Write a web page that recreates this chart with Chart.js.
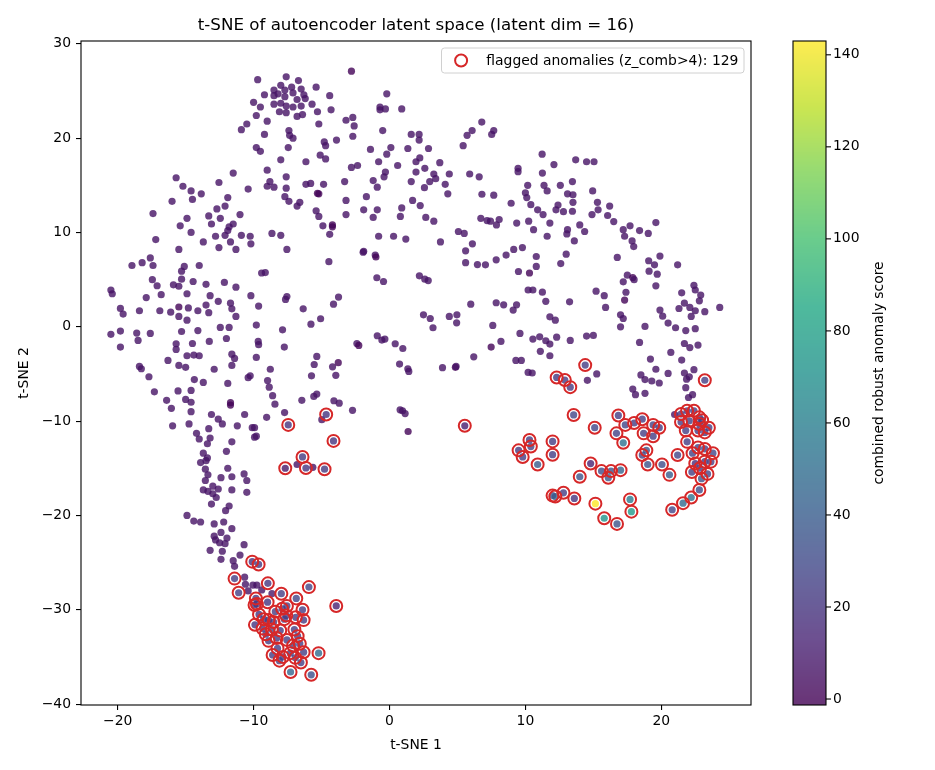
<!DOCTYPE html>
<html>
<head>
<meta charset="utf-8">
<script src="https://cdn.jsdelivr.net/npm/chart.js@4.4.1/dist/chart.umd.min.js"></script>
<style>
html, body { margin: 0; padding: 0; background: #fff; }
canvas { display: block; }
</style>
</head>
<body>
<canvas id="tsne" width="935" height="770"></canvas>
<script>
// ticks
const xTicks = [-20, -10, 0, 10, 20]
const yTicks = [-40, -30, -20, -10, 0, 10, 20, 30]
const cbTicks = [0, 20, 40, 60, 80, 100, 120, 140]
const scoreMin = -1.3
const scoreMax = 143
const nFlagged = 129

// normal points: [t-SNE 1, t-SNE 2, score]
const normalPts = [
  [-9.7,26.2,6],[-7.6,26.5,6],[-6.7,26.1,6],[-2.8,27.1,0],
  [-8.5,25.1,6],[-8.0,25.6,6],[-7.7,25.1,6],[-7.2,25.4,6],[-6.5,25.2,6],[-5.4,25.4,6],
  [-9.2,24.6,6],[-8.5,24.5,6],[-8.2,24.7,6],[-7.7,24.4,6],[-7.1,24.8,6],[-6.3,24.6,6],[-6.8,24.1,6],[-6.2,24.2,6],[-4.4,24.5,6],[-0.2,24.7,6],
  [-10.0,23.8,6],[-8.5,23.6,6],[-8.0,23.7,6],[-7.6,23.4,6],[-7.1,23.3,6],[-6.5,23.4,6],[-5.7,23.6,6],[-9.5,23.3,6],
  [-8.1,22.8,6],[-7.6,22.7,6],[-6.8,22.3,6],[-6.4,22.5,6],[-5.3,22.8,6],[-4.3,23.0,6],
  [-0.7,23.3,6],[-0.7,23.0,6],[-0.3,23.1,6],[0.9,23.1,6],
  [-9.8,22.4,6],[-9.0,21.8,6],[-5.2,21.5,6],[-3.2,21.9,6],[-2.7,22.2,6],[-2.6,21.3,6],[-2.7,20.2,6],[-0.5,20.8,6],[1.6,20.4,6],
  [-9.2,20.4,6],[-7.4,20.8,6],[-7.35,20.3,6],[-7.1,20.0,6],[-3.9,19.8,6],[-4.8,19.6,6],[-4.7,19.2,6],
  [-9.8,19.0,6],[-9.5,18.6,6],[-7.45,19.0,6],[-1.4,18.8,6],[0.1,19.0,6],[1.35,18.9,6],[-0.2,18.3,6],
  [-5.1,18.2,6],[-4.7,17.8,6],[-8.0,17.7,6],[-6.15,17.5,6],[-0.8,17.5,6],[1.95,17.5,6],
  [-2.35,17.1,6],[-2.8,16.9,6],[0.6,17.1,6],[-9.0,16.6,6],[-0.3,16.4,6],[-0.4,15.9,6],[1.95,16.4,6],
  [-7.6,15.9,6],[-8.8,15.4,6],[-9.0,14.9,6],[-8.5,14.8,6],[-7.6,14.7,6],[-6.15,15.1,6],[-5.8,15.2,6],[-4.85,15.1,6],[-3.3,15.4,6],[-1.2,15.5,6],[-0.9,14.8,6],[1.6,15.4,6],
  [-5.2,14.1,0],[-5.3,14.15,0],[-7.7,13.8,6],[-7.4,13.3,6],[-6.6,13.2,6],[-6.8,12.8,6],[-3.2,13.4,6],[-1.7,13.8,6],[1.7,13.4,6],
  [-5.4,12.3,6],[-5.2,11.7,6],[-1.9,12.4,6],[-0.9,12.4,6],[0.9,12.6,6],[-3.2,11.9,6],[-1.2,11.6,6],[0.8,11.7,6],
  [-4.9,10.7,6],[-4.2,10.8,0],[-4.2,10.6,0],[-4.4,9.8,6],[-8.65,9.9,6],[-8.0,9.7,6],[-0.8,9.6,6],[0.3,9.6,6],[1.2,9.3,6],[-7.55,8.2,6],[-1.9,8.0,6],
  [-10.9,20.9,6],[-10.5,21.5,6],[-15.7,15.8,6],[-11.5,16.3,6],[-12.55,15.3,6],[-15.2,14.9,6],[-14.6,14.4,6],[-13.85,14.1,6],[-10.4,14.6,6],
  [-16.0,13.3,6],[-14.5,13.5,6],[-11.9,13.7,6],[-12.1,12.8,6],[-12.7,12.5,6],[-17.4,12.0,6],[-14.9,11.5,6],[-13.3,11.75,6],[-12.45,11.5,6],[-11.0,11.9,6],
  [-13.1,10.9,6],[-15.4,10.7,6],[-11.8,10.6,6],[-11.5,10.9,6],[-11.9,10.2,6],[-12.1,9.7,6],[-14.6,10.0,6],[-17.2,9.25,6],[-12.8,9.6,6],[-13.7,9.0,6],
  [-11.7,9.0,6],[-10.9,9.7,6],[-10.25,9.6,6],[-10.2,8.8,6],[-15.5,8.2,6],[-12.55,8.4,6],[-11.3,8.2,6],
  [-17.6,7.3,6],[-18.2,6.8,6],[-17.4,6.5,6],[-18.95,6.5,6],[-15.1,6.4,6],[-15.3,5.9,6],[-14.0,6.5,6],[-15.3,5.05,6],[-17.45,5.0,6],[-17.1,4.35,6],
  [-15.9,4.45,6],[-15.5,4.3,6],[-14.45,4.8,6],[-13.5,4.5,6],[-12.15,4.7,6],[-11.3,4.2,6],[-20.5,3.9,6],[-20.4,3.5,6],[-17.9,3.1,6],[-16.8,3.4,6],
  [-14.9,3.5,6],[-13.2,3.3,6],[-10.2,3.3,6],
  [-19.8,1.95,6],[-19.6,1.35,6],[-18.4,1.7,6],[-16.9,1.7,6],[-16.1,1.55,6],[-15.5,2.1,0],[-15.5,1.1,6],[-14.8,2.0,6],[-14.9,0.7,6],[-14.1,1.7,6],
  [-13.5,2.3,6],[-13.3,1.5,6],[-12.6,2.7,6],[-11.7,2.5,6],[-11.6,1.9,6],[-11.3,1.1,6],
  [-20.5,-0.8,6],[-19.8,-0.45,6],[-18.6,-0.67,6],[-18.5,-1.45,6],[-17.6,-0.7,6],[-19.8,-2.15,6],[-15.3,-0.5,6],[-14.1,-0.4,6],[-12.45,-0.07,6],[-11.8,-0.07,6],
  [-13.26,-1.55,6],[-12.0,-1.24,6],[-15.7,-1.8,6],[-15.7,-2.4,6],[-14.5,-1.77,6],[-16.3,-3.57,6],[-14.9,-3.07,6],[-14.4,-3.0,6],[-14.0,-3.07,6],
  [-15.5,-4.1,6],[-15.0,-4.3,6],[-11.6,-2.9,6],[-11.4,-3.35,6],[-11.6,-4.1,6],[-12.9,-4.5,6],[-18.4,-4.2,6],[-18.26,-4.45,6],[-17.7,-5.3,6],
  [-14.36,-5.6,6],[-13.7,-5.9,6],[-11.9,-6.0,6],[-10.4,-5.4,6],[-10.25,-5.2,6],
  [-17.3,-6.9,6],[-15.56,-6.8,6],[-14.6,-6.75,6],[-16.4,-7.8,6],[-15.0,-7.7,6],[-14.6,-8.0,6],[-11.7,-8.05,0],[-11.7,-8.3,0],[-16.05,-8.65,6],
  [-14.6,-9.0,6],[-13.1,-9.3,6],[-12.6,-9.8,6],[-12.3,-10.3,6],[-10.66,-9.3,6],[-10.1,-10.7,6],[-15.96,-10.5,6],[-14.75,-10.3,6],[-13.3,-10.8,6],
  [-11.2,-10.5,6],[-14.2,-11.3,6],[-14.0,-11.9,6],[-13.2,-11.8,6],[-13.4,-12.4,6],[-11.6,-12.2,6],[-13.7,-13.4,6],[-13.4,-13.9,6],[-12.0,-13.2,6],[-9.93,-11.7,6],
  [-1.94,7.9,6],[-1.05,7.6,6],[-1.0,7.4,0],[-4.46,6.9,6],[-9.41,5.7,6],[-9.14,5.75,6],[-0.93,5.2,6],[-0.44,4.8,6],[2.2,5.4,6],
  [-7.55,3.2,6],[-7.65,2.9,6],[-3.75,3.15,6],[-4.12,2.4,6],[-9.63,2.2,6],[-6.35,1.9,6],[-5.07,0.85,6],[-5.78,0.28,6],[-7.87,-0.32,6],[-9.8,0.18,6],
  [-9.66,-1.55,6],[-9.63,-1.9,6],[-7.74,-2.15,6],[-9.8,-3.25,6],[-2.4,-1.77,6],[-2.26,-1.98,0],[-0.9,-0.95,6],[-0.56,-1.41,6],[-0.34,-1.3,6],
  [0.42,-1.8,6],[0.98,-2.3,6],[0.74,-3.95,6],[1.35,-4.45,6],[1.42,-4.73,6],[-5.35,-3.14,6],[-5.54,-4.0,6],[-4.19,-4.24,6],[-3.77,-3.8,0],
  [-5.74,-5.2,6],[-3.95,-5.15,6],[-8.77,-4.5,6],[-8.97,-5.7,6],[-8.85,-6.4,6],[-8.6,-7.3,6],[-8.43,-8.2,6],[-5.57,-7.38,6],[-5.35,-7.13,6],
  [-6.45,-7.8,6],[-4.09,-7.84,6],[-3.7,-8.1,6],[-2.72,-8.86,6],[-7.72,-9.1,6],[-9.04,-9.6,6],[-4.98,-9.85,6],[-9.93,-10.7,6],[-9.8,-11.6,6],
  [0.78,-8.8,6],[0.96,-8.9,6],[1.15,-9.2,6],[1.37,-11.1,0],[-6.8,-14.6,6],[-5.64,-14.9,6],
  [-13.9,-14.4,6],[-13.5,-14.2,6],[-13.55,-15.1,6],[-13.36,-15.7,6],[-13.55,-16.3,6],[-11.9,-15.0,6],[-12.4,-16.0,6],[-11.6,-15.9,6],[-10.7,-15.6,6],
  [-10.5,-16.3,6],[-13.7,-17.3,6],[-13.36,-17.45,6],[-13.0,-16.9,6],[-12.6,-17.2,6],[-13.0,-17.7,6],[-12.75,-18.1,6],[-11.6,-17.3,6],[-10.5,-17.55,6],
  [-13.1,-18.8,6],[-11.8,-19.0,6],[-12.06,-19.5,6],[-14.9,-20.0,6],[-14.4,-20.6,6],[-13.9,-20.7,6],[-12.9,-20.9,6],[-12.2,-20.7,6],[-11.6,-21.4,6],
  [-12.4,-21.8,6],[-12.9,-22.2,6],[-12.8,-22.6,6],[-12.5,-22.9,6],[-12.1,-23.0,6],[-11.96,-22.4,6],[-13.2,-23.7,6],[-12.3,-23.8,6],[-12.4,-24.65,6],
  [-10.7,-23.1,6],[-11.0,-24.2,6],[-11.5,-24.8,6],[-11.4,-25.4,6],[-10.66,-26.55,6],[-10.6,-27.3,6],[-10.4,-28.0,6],[-10.05,-27.4,6],
  [-9.76,-27.4,6],[-9.4,-27.9,6],[-8.65,-28.3,8],
  [6.79,21.7,6],[6.08,20.8,6],[5.71,20.3,6],[7.67,20.8,6],[7.52,20.4,6],[5.42,19.2,6],[2.18,20.4,6],[2.18,19.8,6],[2.87,18.9,6],[2.23,17.9,6],
  [3.7,17.4,6],[2.6,16.8,6],[4.4,16.2,6],[3.26,16.2,6],[3.4,15.7,6],[2.96,15.4,6],[2.57,14.75,6],[4.1,15.1,6],[4.29,14.1,6],[5.9,16.2,6],
  [6.6,15.9,6],[6.8,14.05,6],[7.67,13.95,6],[2.26,12.85,6],[2.67,11.6,6],[3.26,11.2,6],[6.72,11.5,6],[7.18,11.26,6],[7.43,11.2,6],[8.07,11.37,6],
  [7.87,10.8,6],[8.95,13.1,6],[9.46,16.8,6],[9.46,16.45,6],[11.23,18.3,6],[11.25,16.3,6],[12.1,17.2,6],[13.7,17.7,6],[10.17,15.0,6],[11.37,15.0,6],
  [11.6,14.4,6],[12.57,15.0,6],[13.46,15.4,6],[10.0,14.2,6],[10.1,13.7,6],[10.4,12.95,6],[10.9,12.4,6],[11.3,11.9,6],[9.36,11.0,6],[10.24,11.2,6],
  [10.6,10.3,6],[11.8,11.0,6],[11.6,9.6,6],[12.4,12.9,6],[12.25,12.4,6],[12.8,12.2,6],[13.1,14.1,6],[13.5,14.0,6],[13.5,13.2,6],[13.46,12.25,6],
  [13.1,10.3,6],[13.05,9.85,6],[14.0,10.8,6],[13.6,9.1,6],[5.07,10.1,6],[5.5,9.9,6],[6.1,8.8,6],[3.75,9.0,6],[5.6,8.05,6],[9.14,8.2,6],[9.78,8.4,6],
  [5.6,6.8,6],[6.47,6.6,6],[7.06,6.57,6],[7.85,7.1,6],[8.58,7.6,6],[10.8,7.45,6],[10.8,6.4,6],[9.49,5.86,6],[10.3,5.7,0],[13.0,7.7,6],[12.6,6.7,6],
  [2.6,5.05,6],[2.85,4.9,6],[10.2,3.9,6],[10.55,3.9,6],[11.25,3.67,6],[11.5,2.7,6],[13.25,2.65,6],[5.98,2.4,6],[7.85,2.55,6],[8.4,2.33,6],
  [9.35,2.33,6],[9.1,1.77,6],[2.5,1.27,6],[3.0,0.88,6],[3.2,-0.1,6],[4.4,1.1,6],[4.96,1.27,6],[4.94,0.42,6],[7.6,0.14,6],[11.8,1.06,6],[12.2,0.7,6],
  [9.6,-0.7,6],[10.55,-1.3,6],[11.05,-1.06,6],[11.5,-1.48,6],[11.8,-1.83,6],[12.3,-1.1,6],[13.3,-1.45,6],[8.2,-1.55,6],[7.48,-2.15,0],[6.2,-3.18,6],
  [11.1,-2.6,6],[11.8,-3.07,6],[9.3,-3.57,6],[9.7,-3.57,6],[3.9,-4.34,6],[4.85,-4.3,0],[4.9,-4.2,6],[10.2,-4.84,6],[10.5,-4.9,6],
  [14.5,17.5,6],[15.05,17.5,6],[14.95,14.4,6],[15.3,13.2,6],[15.35,12.4,6],[16.2,12.8,6],[14.9,11.9,6],[16.05,11.8,6],[16.5,11.15,6],[14.36,10.1,6],
  [17.2,10.3,6],[17.3,9.6,6],[17.7,10.7,6],[17.85,9.1,6],[17.97,8.5,6],[18.4,10.2,6],[19.04,9.9,6],[19.6,11.05,6],
  [16.76,7.35,6],[19.07,7.0,6],[19.5,6.57,6],[19.9,7.5,6],[19.1,5.9,6],[19.7,5.58,6],[21.2,6.57,6],[17.5,5.47,6],[17.9,5.22,0],[18.0,5.0,6],
  [17.2,4.77,6],[19.6,4.34,6],[22.4,4.4,6],[22.5,3.9,6],[22.9,3.36,6],[22.8,2.75,6],[21.5,3.6,6],[15.2,3.78,6],[15.8,3.3,6],[17.4,3.66,6],
  [17.3,2.83,0],[15.9,2.05,6],[19.9,1.77,6],[20.1,1.13,6],[21.3,1.94,6],[21.7,2.5,6],[22.1,2.05,6],[22.5,1.7,6],[23.2,1.6,6],[24.3,2.05,6],
  [22.2,1.1,6],[17.0,1.27,6],[17.2,0.88,6],[17.0,0.0,6],[18.8,0.04,6],[20.5,0.39,6],[21.05,-0.1,6],[21.8,-0.4,6],[22.5,-0.2,6],[14.5,-0.99,6],
  [15.0,-0.92,6],[18.4,-1.66,6],[21.7,-1.77,6],[22.1,-2.2,6],[22.7,-1.94,6],[20.7,-2.72,6],[21.5,-3.53,6],[19.2,-3.42,6],[19.6,-4.5,6],[22.4,-4.55,6],
  [20.5,-4.94,6],[18.5,-5.1,6],[18.8,-5.6,6],[19.3,-5.75,6],[19.85,-5.96,6],[21.7,-4.9,6],[22.06,-5.3,6],[21.86,-5.55,6],[15.25,-5.0,6],[14.56,-5.68,6],
  [17.9,-6.6,6],[18.1,-7.2,6],[18.8,-7.06,6],[21.8,-6.46,6],[22.3,-7.2,6],[22.0,-7.5,6],[20.98,-9.3,6]
]

// flagged anomalies (z_comb > 4): [t-SNE 1, t-SNE 2, score]
const flaggedPts = [
  [-4.66,-9.3,20],[-7.45,-10.4,20],[-4.12,-12.1,20],[-6.4,-13.8,22],[-7.67,-15.0,8],[-6.15,-14.97,20],[-4.78,-15.1,22],[5.54,-10.5,10],
  [-10.1,-24.9,20],[-9.63,-25.2,22],[-11.4,-26.7,24],[-11.1,-28.2,24],[-8.95,-27.2,20],[-5.93,-27.6,28],[-3.92,-29.6,12],[-7.96,-28.3,24],
  [-6.86,-28.8,28],[-9.83,-28.8,22],[-9.93,-29.5,20],[-7.55,-29.6,24],[-8.97,-29.2,20],[-6.4,-30.0,24],[-6.32,-31.1,24],[-8.4,-30.2,24],
  [-9.76,-29.4,20],[-9.26,-31.0,20],[-8.9,-31.1,24],[-8.53,-31.3,22],[-7.74,-31.0,24],[-9.34,-32.0,20],[-8.65,-32.1,28],[-7.0,-32.1,24],
  [-8.04,-32.2,22],[-8.9,-33.3,24],[-7.55,-33.2,24],[-6.76,-32.8,22],[-8.24,-34.1,24],[-7.1,-33.8,26],[-6.32,-34.5,24],[-5.22,-34.6,48],
  [-7.84,-35.0,24],[-6.93,-35.1,26],[-6.52,-35.6,24],[-7.28,-36.6,45],[-5.76,-36.9,33],
  [-8.3,-33.0,22],[-7.3,-34.6,24],[-9.6,-30.5,20],[-7.9,-29.9,22],[-8.6,-34.8,24],[-6.9,-30.8,24],
  [-9.1,-32.6,22],[-7.6,-30.6,24],[-8.1,-35.4,26],[-6.6,-33.6,24],[-9.9,-31.6,20],
  [10.3,-12.0,24],[10.4,-12.7,26],[9.5,-13.1,22],[9.8,-13.8,24],[12.0,-12.15,24],[12.0,-13.56,24],[10.9,-14.6,40],
  [12.3,-5.37,22],[12.9,-5.65,24],[13.3,-6.4,22],[14.4,-4.06,24],[13.55,-9.35,28],[14.0,-15.9,35],
  [12.2,-18.0,48],[12.0,-17.9,35],[12.8,-17.6,24],[13.6,-18.2,20],[14.8,-14.5,12],
  [15.6,-15.3,32],[16.3,-15.3,35],[16.1,-16.0,38],[17.0,-15.2,45],[15.15,-18.75,143],[15.8,-20.3,72],[16.74,-20.9,35],
  [17.7,-18.3,58],[17.8,-19.6,75],[19.0,-14.6,35],[20.05,-14.6,32],[20.6,-15.7,40],
  [20.8,-19.4,28],[21.6,-18.7,48],[22.2,-18.1,52],[22.8,-17.3,32],[22.96,-16.1,35],[22.25,-15.4,24],[22.85,-15.0,22],
  [23.2,-14.3,20],[23.65,-14.3,24],[22.5,-14.5,16],
  [23.2,-5.67,24],[16.84,-9.4,24],[15.1,-10.7,28],[17.35,-10.4,28],[18.0,-10.2,24],[18.6,-9.8,24],[16.7,-11.3,26],[17.2,-12.3,52],
  [18.7,-11.3,24],[19.4,-10.4,26],[19.4,-11.6,24],[19.85,-10.7,22],[18.9,-13.1,35],[18.6,-13.6,28],[21.2,-13.6,28],
  [21.45,-9.25,22],[21.9,-8.9,20],[22.4,-8.9,24],[22.8,-9.6,22],[21.45,-10.1,24],[22.06,-9.96,26],[21.8,-11.0,24],[22.8,-10.3,20],
  [23.5,-10.7,24],[23.2,-11.2,22],[22.7,-11.0,24],[22.7,-12.8,28],[23.2,-12.95,24],[23.8,-13.4,28],
  [23.0,-9.9,24],[22.3,-13.4,26],[23.4,-15.6,28],[21.9,-12.2,24]
]

// viridis
const viridisStops = ['#440154', '#482475', '#414487', '#355f8d', '#2a788e', '#21918c', '#22a884', '#44bf70', '#7ad151', '#bddf26', '#fde725']
const viridisRgb = viridisStops.map((h) => [parseInt(h.slice(1, 3), 16), parseInt(h.slice(3, 5), 16), parseInt(h.slice(5, 7), 16)])
function viridis(v, alpha) {
  let t = (v - scoreMin) / (scoreMax - scoreMin)
  t = Math.min(1, Math.max(0, t)) * (viridisRgb.length - 1)
  const i = Math.min(Math.floor(t), viridisRgb.length - 2)
  const f = t - i
  const a = viridisRgb[i], b = viridisRgb[i + 1]
  const c = a.map((x, k) => Math.round(x + (b[k] - x) * f))
  return 'rgba(' + c[0] + ',' + c[1] + ',' + c[2] + ',' + alpha + ')'
}

const allPts = normalPts.concat(flaggedPts)
const fontFamily = '"DejaVu Sans", sans-serif'
const minus = (v) => String(v).replace('-', '\u2212')

// 装飾（タイトル、枠、凡例、カラーバー）
const decor = {
  id: 'decor',
  afterDraw(chart) {
    const { ctx, chartArea: ca } = chart
    ctx.save()
    ctx.strokeStyle = '#000'
    ctx.lineWidth = 1.1
    ctx.strokeRect(ca.left, ca.top, ca.right - ca.left, ca.bottom - ca.top)

    ctx.fillStyle = '#000'
    ctx.textAlign = 'center'
    ctx.textBaseline = 'middle'
    ctx.font = '16.7px ' + fontFamily
    ctx.fillText('t-SNE of autoencoder latent space (latent dim = 16)', (ca.left + ca.right) / 2, 26)
    ctx.font = '13.9px ' + fontFamily
    ctx.fillText('t-SNE 1', (ca.left + ca.right) / 2, 745)
    ctx.save()
    ctx.translate(24, (ca.top + ca.bottom) / 2)
    ctx.rotate(-Math.PI / 2)
    ctx.fillText('t-SNE 2', 0, 0)
    ctx.restore()

    // legend
    const label = 'flagged anomalies (z_comb>4): ' + nFlagged
    const tw = ctx.measureText(label).width
    const right = ca.right - 7
    const left = right - 5.6 - tw - 11.2 - 28 - 5.6
    const top = ca.top + 7, h = 25
    ctx.beginPath()
    ctx.roundRect(left, top, right - left, h, 3)
    ctx.fillStyle = 'rgba(255,255,255,0.8)'
    ctx.fill()
    ctx.strokeStyle = '#d0d0d0'
    ctx.lineWidth = 1
    ctx.stroke()
    ctx.beginPath()
    ctx.arc(left + 5.6 + 14, top + h / 2, 6, 0, Math.PI * 2)
    ctx.strokeStyle = '#d62728'
    ctx.lineWidth = 2
    ctx.stroke()
    ctx.fillStyle = '#000'
    ctx.textAlign = 'left'
    ctx.fillText(label, left + 5.6 + 28 + 11.2, top + h / 2 + 0.5)

    // colorbar
    const cbL = 793, cbR = 826, cbT = ca.top, cbB = ca.bottom
    const yOf = (v) => cbB - (v - scoreMin) / (scoreMax - scoreMin) * (cbB - cbT)
    for (let y = cbT; y < cbB; y++) {
      const v = scoreMin + (cbB - y - 0.5) / (cbB - cbT) * (scoreMax - scoreMin)
      ctx.fillStyle = viridis(v, 0.8)
      ctx.fillRect(cbL, y, cbR - cbL, 1)
    }
    ctx.strokeStyle = '#000'
    ctx.lineWidth = 1.1
    ctx.strokeRect(cbL, cbT, cbR - cbL, cbB - cbT)
    ctx.fillStyle = '#000'
    ctx.textAlign = 'left'
    ctx.textBaseline = 'middle'
    cbTicks.forEach((v) => {
      const y = yOf(v)
      ctx.beginPath()
      ctx.moveTo(cbR, y)
      ctx.lineTo(cbR + 5, y)
      ctx.stroke()
      ctx.fillText(String(v), cbR + 7, y)
    })
    ctx.save()
    ctx.translate(879, (cbT + cbB) / 2)
    ctx.rotate(-Math.PI / 2)
    ctx.textAlign = 'center'
    ctx.fillText('combined robust anomaly score', 0, 0)
    ctx.restore()
    ctx.restore()
  },
}

const ctx = document.getElementById('tsne').getContext('2d')
const tsneChart = new Chart(ctx, {
  type: 'scatter',
  data: {
    datasets: [
      {
        label: 'flagged anomalies (z_comb>4): ' + nFlagged,
        data: flaggedPts.map((p) => ({ x: p[0], y: p[1] })),
        pointRadius: 6,
        pointBorderWidth: 2,
        borderColor: '#d62728',
        backgroundColor: 'rgba(0,0,0,0)',
        order: 0,
      },
      {
        label: 'points',
        data: allPts.map((p) => ({ x: p[0], y: p[1] })),
        pointRadius: 3.6,
        pointBorderWidth: 0,
        backgroundColor: allPts.map((p) => viridis(p[2], 0.8)),
        order: 1,
      },
    ],
  },
  options: {
    responsive: false,
    animation: false,
    devicePixelRatio: 1,
    events: [],
    layout: { padding: { left: 0, right: 184, top: 41, bottom: 0 } },
    plugins: { legend: { display: false }, tooltip: { enabled: false } },
    scales: {
      x: {
        type: 'linear',
        min: -22.7,
        max: 26.6,
        afterBuildTicks: (s) => { s.ticks = xTicks.map((v) => ({ value: v })) },
        afterFit: (s) => { s.height = 65 },
        grid: { display: true, drawOnChartArea: false, drawTicks: true, tickLength: 5, color: '#000', lineWidth: 1.1 },
        border: { display: false },
        ticks: { color: '#000', padding: 3, font: { family: fontFamily, size: 13.9 }, callback: minus, maxRotation: 0 },
      },
      y: {
        type: 'linear',
        min: -40.1,
        max: 30.3,
        afterBuildTicks: (s) => { s.ticks = yTicks.map((v) => ({ value: v })) },
        afterFit: (s) => { s.width = 81 },
        grid: { display: true, drawOnChartArea: false, drawTicks: true, tickLength: 5, color: '#000', lineWidth: 1.1 },
        border: { display: false },
        ticks: { color: '#000', padding: 5, font: { family: fontFamily, size: 13.9 }, callback: minus },
      },
    },
  },
  plugins: [decor],
})
</script>
</body>
</html>
